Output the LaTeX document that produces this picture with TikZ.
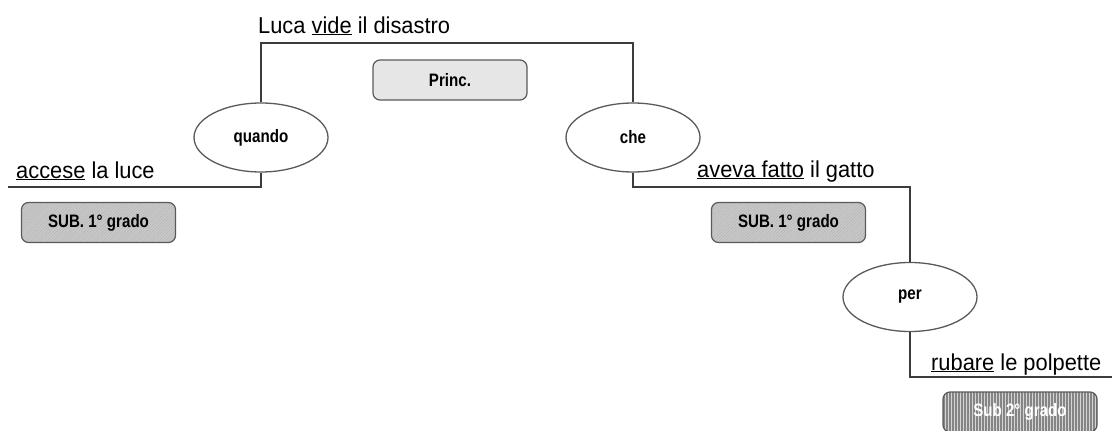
\documentclass[tikz,border=0pt]{standalone}
\usepackage{fontspec}
\setmainfont{Liberation Sans}[FakeStretch=0.95]
\newfontfamily\tagfont{Liberation Sans}[FakeStretch=0.84]
\usetikzlibrary{shapes.geometric,patterns.meta}
\definecolor{linegray}{HTML}{3C3C3C}
\definecolor{edgegray}{HTML}{5A5A5A}
\definecolor{princfill}{HTML}{E6E6E6}
\definecolor{subfill}{HTML}{C8C8C8}
\definecolor{subtwofill}{HTML}{858585}
\tikzset{
  conn/.style={draw=linegray, line width=1.1pt},
  clause/.style={font=\fontsize{23}{26}\selectfont, inner sep=0pt, anchor=base west},
  conj/.style={ellipse, draw=edgegray, line width=1.3pt, fill=white,
    minimum width=134pt, minimum height=69pt, inner sep=0pt,
    font=\tagfont\bfseries\fontsize{18}{20}\selectfont},
  tagbox/.style={rectangle, rounded corners=7pt, draw=edgegray, line width=1.2pt,
    minimum width=154pt, minimum height=40pt, inner sep=0pt,
    font=\tagfont\bfseries\fontsize{18}{20}\selectfont},
  princbox/.style={tagbox, fill=princfill},
  subbox/.style={tagbox, preaction={fill=subfill},
    pattern={Lines[angle=45,distance=2.2pt,line width=0.3pt]}, pattern color=subfill!88!black},
  subtwobox/.style={tagbox, text=white, preaction={fill=subtwofill},
    pattern={Lines[angle=90,distance=3pt,line width=0.9pt]}, pattern color=white!65!subtwofill},
}
\begin{document}
\begin{tikzpicture}[x=1pt,y=-1pt]
\useasboundingbox (0,0) rectangle (1112,431);

% conjunction ellipses
\node[conj] (quando) at (261,137.5) {quando};
\node[conj] (che) at (633,137.5) {che};
\node[conj] (per) at (910,297) {per};

% corner and end points of the connecting lines
\coordinate (topL) at (261,43);
\coordinate (topR) at (633,43);
\coordinate (leftEnd) at (8,187);
\coordinate (kneeR) at (910,187);
\coordinate (rightEnd) at (1112,377);

% connecting lines
\draw[conn] (quando.north) -- (topL) -- (topR) -- (che.north);
\draw[conn] (quando.south) |- (leftEnd);
\draw[conn] (che.south) |- (kneeR) -- (per.north);
\draw[conn] (per.south) |- (rightEnd);

% clauses
\node[clause] (princ) at (258,33) {Luca \underline{vide} il disastro};
\node[clause] (sub1a) at (16,178) {\underline{accese} la luce};
\node[clause] (sub1b) at (697,177) {\underline{aveva fatto} il gatto};
\node[clause] (sub2) at (931,370) {\underline{rubare} le polpette};

% clause tags
\node[princbox] (tagP) at (450,80) {Princ.};
\node[subbox] (tagA) at (98.5,222.5) {SUB. 1° grado};
\node[subbox] (tagB) at (788.5,222.5) {SUB. 1° grado};
\node[subtwobox] (tagC) at (1020,412) {Sub 2° grado};
\end{tikzpicture}
\end{document}
